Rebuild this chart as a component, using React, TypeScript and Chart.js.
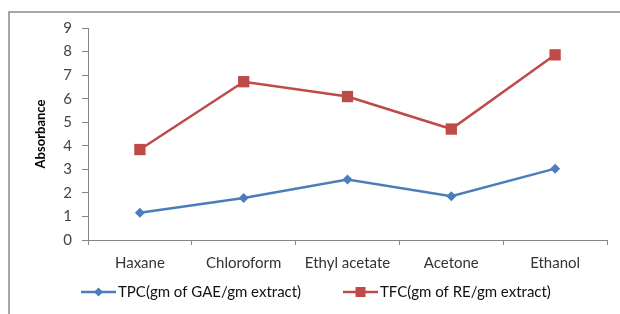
import React, { useEffect, useRef } from "react";
import { Chart, registerables } from "chart.js";

Chart.register(...registerables);

const categories = ["Haxane", "Chloroform", "Ethyl acetate", "Acetone", "Ethanol"];
const tpcValues = [1.16, 1.78, 2.57, 1.86, 3.03];
const tfcValues = [3.84, 6.72, 6.09, 4.71, 7.86];
const tpcLabel = "TPC(gm of GAE/gm extract)";
const tfcLabel = "TFC(gm of RE/gm extract)";
const yTitle = "Absorbance";

const BLUE = "#4A7EBB";
const RED = "#BE4B48";
const FONT = "Lato, 'Open Sans', sans-serif";

const legendPlugin = {
  id: "customLegend",
  afterDraw(chart: any) {
    const ctx = chart.ctx;
    const y = 292;
    ctx.save();
    ctx.font = `15px ${FONT}`;
    ctx.textBaseline = "middle";
    const items = [
      { x: 81, color: BLUE, style: "rectRot", text: tpcLabel },
      { x: 343, color: RED, style: "rect", text: tfcLabel },
    ];
    for (const it of items) {
      ctx.strokeStyle = it.color;
      ctx.lineWidth = 2.5;
      ctx.beginPath();
      ctx.moveTo(it.x, y);
      ctx.lineTo(it.x + 35, y);
      ctx.stroke();
      ctx.fillStyle = it.color;
      const cx = it.x + 17.5;
      if (it.style === "rect") {
        ctx.fillRect(cx - 5, y - 5, 10, 10);
      } else {
        ctx.beginPath();
        ctx.moveTo(cx, y - 4.5);
        ctx.lineTo(cx + 4.5, y);
        ctx.lineTo(cx, y + 4.5);
        ctx.lineTo(cx - 4.5, y);
        ctx.closePath();
        ctx.fill();
      }
      ctx.fillStyle = "#111";
      ctx.textAlign = "left";
      ctx.fillText(it.text, it.x + 37, y);
    }
    ctx.restore();
  },
};

export default function App() {
  const ref = useRef<HTMLCanvasElement>(null);
  useEffect(() => {
    if (!ref.current) return;
    const chart = new Chart(ref.current, {
      type: "line",
      data: {
        labels: categories,
        datasets: [
          {
            label: tpcLabel,
            data: tpcValues,
            borderColor: BLUE,
            backgroundColor: BLUE,
            borderWidth: 2.5,
            pointStyle: "rectRot",
            pointRadius: 5,
            pointBorderWidth: 0,
            tension: 0,
          },
          {
            label: tfcLabel,
            data: tfcValues,
            borderColor: RED,
            backgroundColor: RED,
            borderWidth: 2.5,
            pointStyle: "rect",
            pointRadius: 8,
            pointBorderWidth: 0,
            tension: 0,
          },
        ],
      },
      options: {
        animation: false,
        responsive: false,
        maintainAspectRatio: false,
        layout: { padding: { left: 0, right: 13, top: 28, bottom: 0 } },
        plugins: { legend: { display: false }, tooltip: { enabled: false } },
        scales: {
          x: {
            offset: true,
            grid: {
              offset: true,
              drawOnChartArea: false,
              drawTicks: true,
              tickLength: 5,
              color: "#868686",
            },
            border: { color: "#868686", width: 1 },
            ticks: {
              color: "#333",
              font: { family: FONT, size: 15 },
              padding: 9,
              maxRotation: 0,
              autoSkip: false,
            },
            afterFit: (s: any) => {
              s.height = 74;
            },
          },
          y: {
            min: 0,
            max: 9,
            grid: {
              drawOnChartArea: false,
              drawTicks: true,
              tickLength: 6,
              color: "#868686",
            },
            border: { color: "#868686", width: 1 },
            ticks: {
              stepSize: 1,
              color: "#444",
              font: { family: FONT, size: 15 },
              padding: 10,
            },
            title: {
              display: true,
              text: yTitle,
              color: "#000",
              font: { family: FONT, size: 13, weight: "bold" },
              padding: { top: 33, bottom: 0 },
            },
            afterFit: (s: any) => {
              s.width = 88;
            },
          },
        },
      },
      plugins: [legendPlugin],
    });
    return () => chart.destroy();
  }, []);
  return (
    <div style={{ position: "fixed", left: 0, top: 0, width: 620, height: 314, background: "#fff", overflow: "hidden" }}>
      <div
        style={{
          position: "absolute",
          left: 8,
          top: 11,
          width: 700,
          height: 400,
          border: "2px solid #A6A6A6",
          boxSizing: "border-box",
        }}
      />
      <canvas ref={ref} width={620} height={314} style={{ position: "absolute", left: 0, top: 0 }} />
    </div>
  );
}
